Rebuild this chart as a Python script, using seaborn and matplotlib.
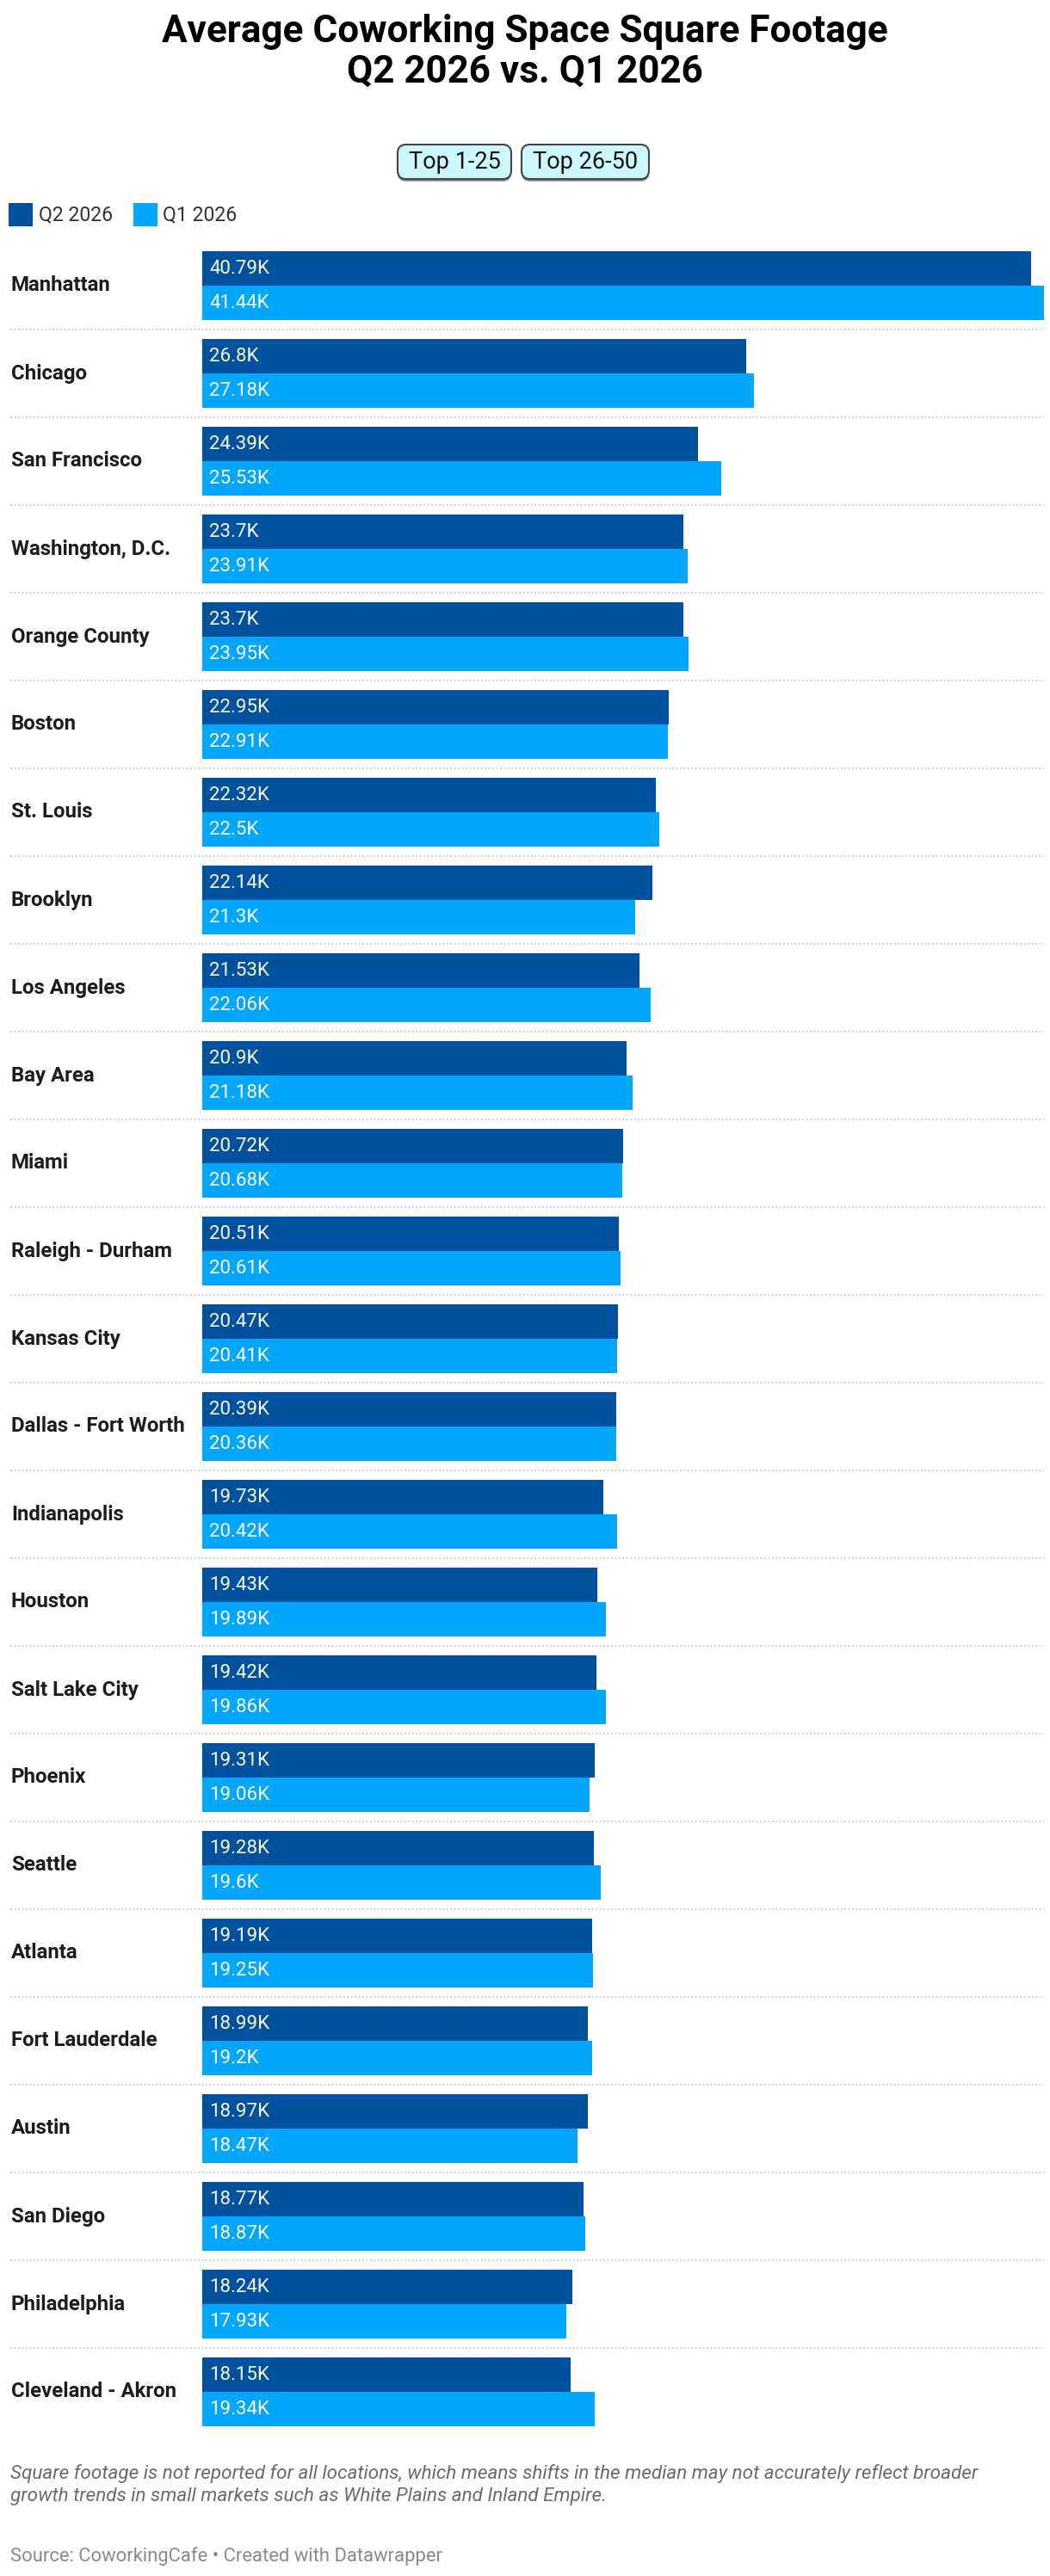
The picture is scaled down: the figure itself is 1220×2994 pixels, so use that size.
import matplotlib
matplotlib.use("Agg")
import matplotlib.pyplot as plt
import matplotlib.patheffects as pe
from matplotlib.patches import Rectangle, FancyBboxPatch
import seaborn as sns
import pandas as pd

cities = ["Manhattan", "Chicago", "San Francisco", "Washington, D.C.", "Orange County",
          "Boston", "St. Louis", "Brooklyn", "Los Angeles", "Bay Area", "Miami",
          "Raleigh - Durham", "Kansas City", "Dallas - Fort Worth", "Indianapolis",
          "Houston", "Salt Lake City", "Phoenix", "Seattle", "Atlanta",
          "Fort Lauderdale", "Austin", "San Diego", "Philadelphia", "Cleveland - Akron"]
q2_2026 = [40.79, 26.8, 24.39, 23.7, 23.7, 22.95, 22.32, 22.14, 21.53, 20.9, 20.72,
           20.51, 20.47, 20.39, 19.73, 19.43, 19.42, 19.31, 19.28, 19.19, 18.99,
           18.97, 18.77, 18.24, 18.15]
q1_2026 = [41.44, 27.18, 25.53, 23.91, 23.95, 22.91, 22.5, 21.3, 22.06, 21.18, 20.68,
           20.61, 20.41, 20.36, 20.42, 19.89, 19.86, 19.06, 19.6, 19.25, 19.2,
           18.47, 18.87, 17.93, 19.34]
series = ["Q2 2026", "Q1 2026"]
colors = ["#01519e", "#03a6fd"]
buttons = ["Top 1-25", "Top 26-50"]

title = "Average Coworking Space Square Footage\nQ2 2026 vs. Q1 2026"
note = ("Square footage is not reported for all locations, which means shifts in the median may not accurately reflect broader\n"
        "growth trends in small markets such as White Plains and Inland Empire.")
source = "Source: CoworkingCafe \u2022 Created with Datawrapper"

df = pd.DataFrame({
    "city": cities * 2,
    "value": q2_2026 + q1_2026,
    "series": [series[0]] * len(cities) + [series[1]] * len(cities),
})

W, H = 1220, 2994
sns.set_theme(style="white")
plt.rcParams["font.family"] = ["Roboto", "DejaVu Sans"]

fig = plt.figure(figsize=(W / 100, H / 100), dpi=100)

def fx(px):
    return px / W

def fy(px):
    return 1 - px / H

n = len(cities)
row_h = 102
top = 281
ax_left, ax_right = 235, 1213
ax = fig.add_axes([fx(ax_left), fy(top + row_h * n), fx(ax_right - ax_left), (row_h * n) / H])

sns.barplot(data=df, x="value", y="city", hue="series", order=cities, hue_order=series,
            palette=colors, orient="h", width=80 / 102, dodge=True, ax=ax,
            legend=False, saturation=1, linewidth=0)
ax.set_xlim(0, max(q1_2026 + q2_2026))
ax.set_ylim(n - 0.5, -0.5)
ax.axis("off")

# value labels inside bars
for cont, vals in zip(ax.containers, [q2_2026, q1_2026]):
    for bar, v in zip(cont, vals):
        yc = bar.get_y() + bar.get_height() / 2
        ax.annotate(f"{v:g}K", xy=(0, yc), xytext=(8, 0), textcoords="offset pixels",
                    ha="left", va="center", color="white", fontsize=16)

# city labels and separators
lab_frac = (13 - ax_left) / (ax_right - ax_left)
sep_frac = (12 - ax_left) / (ax_right - ax_left)
for i, c in enumerate(cities):
    ax.text(lab_frac, i, c, transform=ax.get_yaxis_transform(), ha="left", va="center",
            fontsize=17.3, fontweight="bold", color="#1d1d1d", clip_on=False)
    if i < n - 1:
        ax.axhline(i + 0.5, xmin=sep_frac, xmax=1, color="#d6d6d6", lw=1.6,
                   linestyle=(0, (1, 1)), clip_on=False)

# title
fig.text(0.5, fy(60), title, ha="center", va="center", fontsize=31.7, fontweight="bold",
         color="#000000", linespacing=1.15)

# buttons
btn_boxes = [(462, 594), (606, 754)]
for label, (x0, x1) in zip(buttons, btn_boxes):
    y0, y1 = 168, 208
    box = FancyBboxPatch((fx(x0), fy(y1)), fx(x1 - x0), (y1 - y0) / H,
                         boxstyle="round,pad=0,rounding_size=0.008",
                         transform=fig.transFigure, facecolor="#ccf7fd",
                         edgecolor="#444444", lw=1.5, mutation_aspect=W / H)
    box.set_path_effects([pe.SimplePatchShadow(offset=(0, -2), shadow_rgbFace="#333333", alpha=0.6),
                          pe.Normal()])
    fig.add_artist(box)
    fig.text(fx((x0 + x1) / 2), fy((y0 + y1) / 2), label, ha="center", va="center",
             fontsize=19.5, color="#111111")

# legend
for (sx, tx), s, col in zip([(10, 45), (155, 189)], series, colors):
    fig.add_artist(Rectangle((fx(sx), fy(263)), fx(28), 27 / H, transform=fig.transFigure,
                             facecolor=col, edgecolor="none"))
    fig.text(fx(tx), fy(250), s, ha="left", va="center", fontsize=16.6, color="#333333")

# note and source
fig.text(fx(12), fy(2888), note, ha="left", va="center", fontsize=16.2, style="italic",
         color="#6b6b6b", linespacing=1.25)
fig.text(fx(12), fy(2971), source, ha="left", va="center", fontsize=15.8, color="#8a8a8a")

fig.savefig("out.png", dpi=100, facecolor="white")
